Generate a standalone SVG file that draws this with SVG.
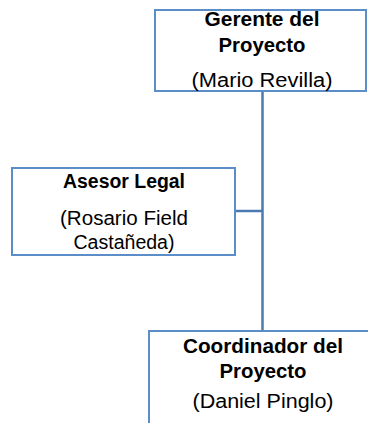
<svg xmlns="http://www.w3.org/2000/svg" width="368" height="423" viewBox="0 0 368 423">
<style>
.box{fill:#ffffff;stroke:#5b8ec8;stroke-width:2}
.t{font-family:"Liberation Sans",Arial,sans-serif;font-size:20px;fill:#000;text-anchor:middle}
.b{font-weight:bold}
.con{stroke:#4a7bb0;stroke-width:2.5;fill:none}
</style>
<rect width="368" height="423" fill="#ffffff"/>
<g id="connectors">
<line class="con" x1="262.5" y1="91" x2="262.5" y2="331"/>
<line class="con" x1="236" y1="211" x2="262.5" y2="211"/>
</g>
<g id="gerente">
<rect class="box" x="155" y="10" width="211" height="81"/>
<text class="t b" x="262" y="26" textLength="115" lengthAdjust="spacingAndGlyphs">Gerente del</text>
<text class="t b" x="262" y="52" textLength="87" lengthAdjust="spacingAndGlyphs">Proyecto</text>
<text class="t" x="262" y="87" textLength="141" lengthAdjust="spacingAndGlyphs">(Mario Revilla)</text>
</g>
<g id="asesor">
<rect class="box" x="12" y="168" width="223" height="87"/>
<text class="t b" x="124" y="188" textLength="122" lengthAdjust="spacingAndGlyphs">Asesor Legal</text>
<text class="t" x="124" y="225" textLength="128" lengthAdjust="spacingAndGlyphs">(Rosario Field</text>
<text class="t" x="124" y="249" textLength="101" lengthAdjust="spacingAndGlyphs">Castañeda)</text>
</g>
<g id="coordinador">
<rect class="box" x="149" y="331" width="230" height="120"/>
<text class="t b" x="263" y="353" textLength="160" lengthAdjust="spacingAndGlyphs">Coordinador del</text>
<text class="t b" x="263" y="378" textLength="87" lengthAdjust="spacingAndGlyphs">Proyecto</text>
<text class="t" x="263" y="408" textLength="141" lengthAdjust="spacingAndGlyphs">(Daniel Pinglo)</text>
</g>
</svg>
